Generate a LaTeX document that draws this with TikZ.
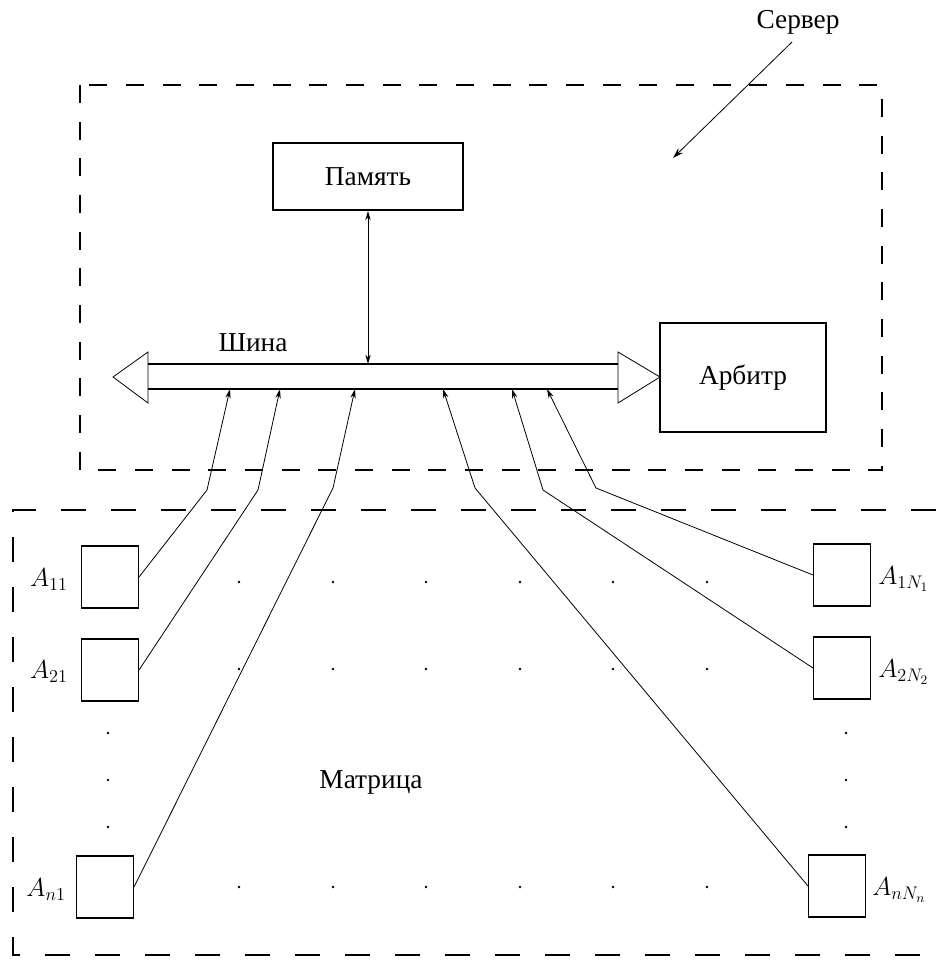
\RequirePackage{fix-cm}
\documentclass[tikz,border=0pt]{standalone}
\usepackage{fontspec}
\setmainfont{Liberation Serif}
\usetikzlibrary{arrows.meta}
\begin{document}
\begin{tikzpicture}[x=0.75pt,y=-0.75pt,
  bigbox/.style={draw, line width=1.4pt, inner sep=0pt, font=\fontsize{20.5}{24}\selectfont},
  cell/.style={draw, line width=0.8pt, inner sep=0pt, minimum width=42.75pt, minimum height=46.5pt},
  lab/.style={inner sep=0pt, font=\fontsize{19.5}{22}\selectfont},
  conn/.style={line width=0.6pt, -{Stealth[length=7pt,width=4pt]}},
  srvline/.style={dash pattern=on 13.5pt off 14pt, line width=1.3pt},
  matline/.style={dash pattern=on 19pt off 18.5pt, line width=1.4pt},
  dotm/.style={fill, circle, inner sep=0pt, minimum size=2.2pt},
  txt/.style={inner sep=0pt, font=\fontsize{20.5}{24}\selectfont}
]
\useasboundingbox (0,0) rectangle (936,960);

% Server frame
\draw[srvline] (80,85) rectangle (882,470);
% Matrix frame
\draw[matline] (936,510) -- (13,510) -- (13,955) -- (936,955);

% Server label and arrow
\node[txt] (srv) at (798,22) {Сервер};
\coordinate (srvtail) at (792,42);
\coordinate (srvtip) at (673,158);
\draw[line width=0.6pt, -{Stealth[length=8pt,width=5pt]}] (srvtail) -- (srvtip);

% Memory and Arbiter
\node[bigbox, minimum width=142.5pt, minimum height=50.25pt] (mem) at (368,176.5) {Память};
\node[bigbox, minimum width=124.5pt, minimum height=81.75pt] (arb) at (743,377.5) {Арбитр};

% Bus
\coordinate (bt) at (368,364);
\draw[line width=1pt] (148,364) -- (618,364);
\draw[line width=1pt] (148,389) -- (618,389);
\draw[line width=0.6pt] (148,352) -- (113,377) -- (148,403) -- cycle;
\draw[line width=0.6pt] (618,352) -- (660,377) -- (618,403) -- cycle;
\node[txt] (bus) at (253,343) {Шина};

% Memory <-> bus
\draw[line width=0.6pt, {Stealth[length=7pt,width=4pt]}-{Stealth[length=7pt,width=4pt]}] (mem.south) -- (bt);

% Matrix cells
\node[cell] (a11) at (110,577) {};
\node[cell] (a21) at (110,670) {};
\node[cell] (an1) at (105,887) {};
\node[cell] (a1n) at (842,575) {};
\node[cell] (a2n) at (842,668) {};
\node[cell] (ann) at (837,886) {};

% Labels
\node[lab, anchor=east] (l11) at (68,580) {$A_{11}$};
\node[lab, anchor=east] (l21) at (68,672) {$A_{21}$};
\node[lab, anchor=east] (ln1) at (66,890) {$A_{n1}$};
\node[lab, anchor=west] (l1n) at (878,579) {$A_{1N_1}$};
\node[lab, anchor=west] (l2n) at (878,672) {$A_{2N_2}$};
\node[lab, anchor=west] (lnn) at (872,890) {$A_{nN_n}$};

\node[txt] (mat) at (371,782) {Матрица};

% Bend points and bus targets
\coordinate (k1) at (207,490); \coordinate (b1) at (230,389);
\coordinate (k2) at (258,490); \coordinate (b2) at (280,389);
\coordinate (k3) at (333,488); \coordinate (b3) at (355,389);
\coordinate (k4) at (475,488); \coordinate (b4) at (443,389);
\coordinate (k5) at (543,490); \coordinate (b5) at (512,389);
\coordinate (k6) at (596,488); \coordinate (b6) at (547,389);

\draw[conn] (a11.east) -- (k1) -- (b1);
\draw[conn] (a21.east) -- (k2) -- (b2);
\draw[conn] (an1.east) -- (k3) -- (b3);
\draw[conn] (ann.west) -- (k4) -- (b4);
\draw[conn] (a2n.west) -- (k5) -- (b5);
\draw[conn] (a1n.west) -- (k6) -- (b6);

% Dots
\foreach \x in {239,333,426,520,613,707} {
  \foreach \y in {582,669,887} {
    \node[dotm] at (\x,\y) {};
  }
}
\foreach \x in {108,846} {
  \foreach \y in {733,780,827} {
    \node[dotm] at (\x,\y) {};
  }
}
\end{tikzpicture}
\end{document}
